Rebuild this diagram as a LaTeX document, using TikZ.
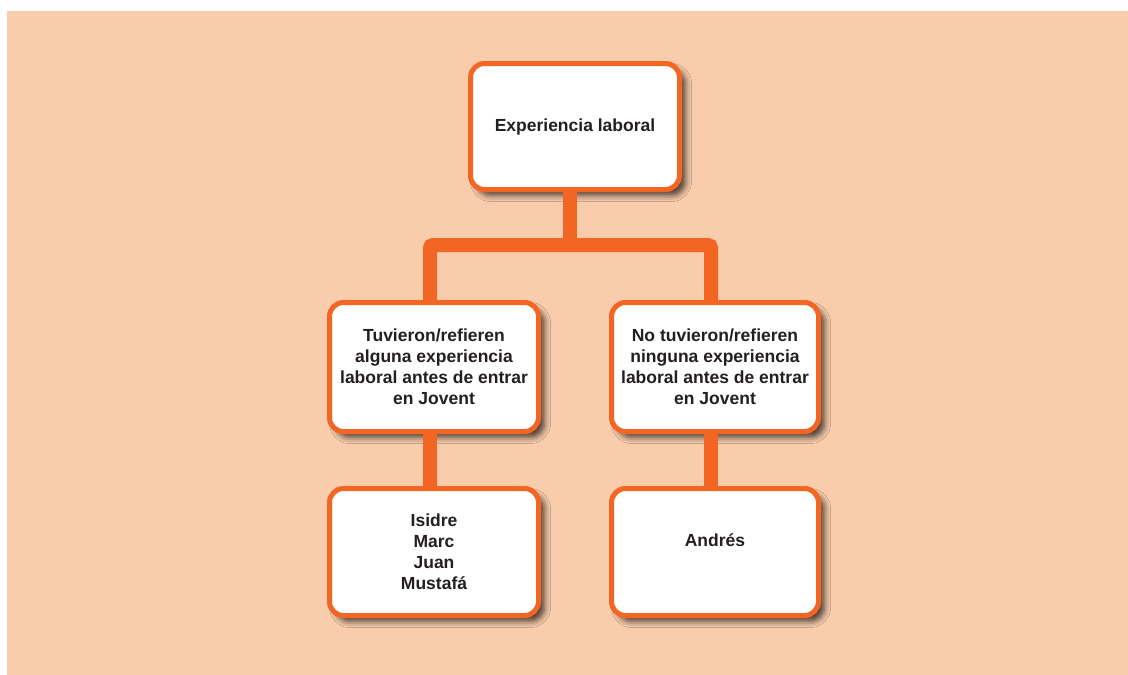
\documentclass[tikz,border=0pt]{standalone}
\usepackage{fontspec}
\setmainfont{Liberation Sans}
\usetikzlibrary{calc,shadows.blur}
\definecolor{peach}{HTML}{F9CDAC}
\definecolor{orng}{HTML}{F26522}
\definecolor{ink}{HTML}{231F20}
\tikzset{
  box/.style={draw=orng, line width=5pt, fill=white, rounded corners=14pt,
    minimum width=209pt, minimum height=128pt, inner sep=0pt,
    blur shadow={shadow xshift=6pt, shadow yshift=-6pt, shadow blur radius=6pt, shadow opacity=70},
    font=\fontsize{17.5}{21}\selectfont\bfseries, text=ink, align=center},
  txt/.style={font=\fontsize{17.5}{21}\selectfont\bfseries, text=ink, align=center, inner sep=0pt},
  conn/.style={draw=orng, line width=14pt, rounded corners=3pt}
}
\begin{document}
\begin{tikzpicture}[x=1pt,y=-1pt]
\useasboundingbox (0,0) rectangle (1128,675);
\fill[white] (0,0) rectangle (1128,675);
\fill[peach] (7,11) rectangle (1128,675);
% boxes
\node[box, minimum height=126pt] (top) at (575,126.5) {Experiencia laboral};
\node[box, minimum height=129pt] (l1) at (434,367) {Tuvieron/refieren\\alguna experiencia\\laboral antes de entrar\\en Jovent};
\node[box, minimum height=129pt, minimum width=207pt] (r1) at (715,367) {No tuvieron/refieren\\ninguna experiencia\\laboral antes de entrar\\en Jovent};
\node[box, minimum height=127pt] (l2) at (434,552) {Isidre\\Marc\\Juan\\Mustafá};
\node[box, minimum height=127pt, minimum width=207pt] (r2) at (715,552) {};
\node[txt] (r2t) at (715,540) {Andrés};
% connectors, starting at the box borders
\coordinate (j) at ([xshift=-5pt]top.south |- 0,245);
\draw[conn] ([xshift=-5pt]top.south) -- (j);
\draw[conn] ([xshift=-4pt]l1.north) |- (j) -| ([xshift=-4pt]r1.north);
\draw[conn] ([xshift=-4pt]l1.south) -- ([xshift=-4pt]l2.north);
\draw[conn] ([xshift=-4pt]r1.south) -- ([xshift=-4pt]r2.north);
\end{tikzpicture}
\end{document}
